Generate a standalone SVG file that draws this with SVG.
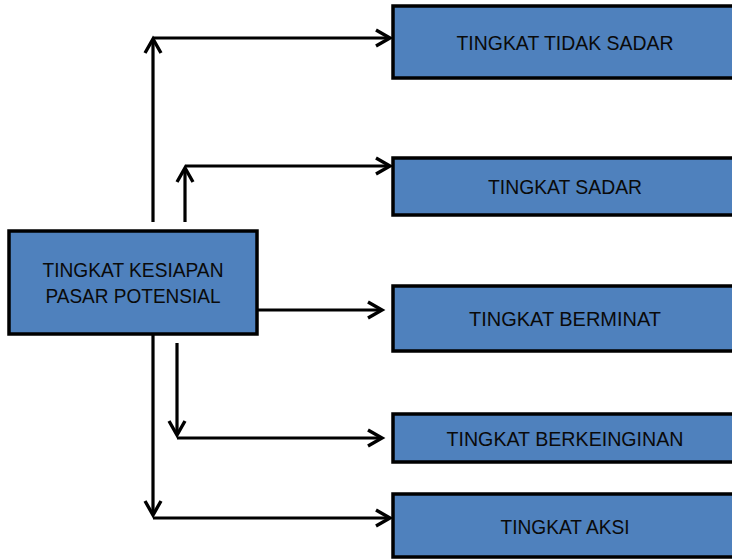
<svg xmlns="http://www.w3.org/2000/svg" width="732" height="559" viewBox="0 0 732 559">
  <style>
    .box { fill: #4F81BD; stroke: #000; stroke-width: 3.5; }
    .lbl { font-family: "Liberation Sans", Arial, sans-serif; font-size: 20.5px; fill: #0a0a0a; text-anchor: middle; }
    .conn { fill: none; stroke: #000; stroke-width: 3.2; marker-end: url(#arrow); }
  </style>
  <defs>
    <marker id="arrow" markerUnits="userSpaceOnUse" viewBox="-18 -12 22 24" markerWidth="22" markerHeight="24" refX="0" refY="0" orient="auto">
      <path d="M-14,-8 L0,0 L-14,8" fill="none" stroke="#000" stroke-width="3.4" stroke-linejoin="miter"/>
    </marker>
  </defs>

  <!-- connectors -->
  <g id="connectors">
    <path class="conn" d="M153,222 V39"/>
    <path class="conn" d="M153,38 H390"/>
    <path class="conn" d="M185,222 V168"/>
    <path class="conn" d="M185,166 H390"/>
    <path class="conn" d="M258,310 H382"/>
    <path class="conn" d="M177,343 V435"/>
    <path class="conn" d="M177,438 H382"/>
    <path class="conn" d="M153,335 V515"/>
    <path class="conn" d="M153,518 H390"/>
  </g>

  <!-- source node -->
  <g id="node-kesiapan">
    <rect class="box" x="9" y="231" width="248" height="103"/>
    <text class="lbl" x="133" y="277" textLength="181" lengthAdjust="spacingAndGlyphs">TINGKAT KESIAPAN</text>
    <text class="lbl" x="133" y="303" textLength="175" lengthAdjust="spacingAndGlyphs">PASAR POTENSIAL</text>
  </g>

  <!-- stage nodes -->
  <g id="node-tidak-sadar">
    <rect class="box" x="393" y="6" width="345" height="72"/>
    <text class="lbl" x="565" y="50" textLength="217" lengthAdjust="spacingAndGlyphs">TINGKAT TIDAK SADAR</text>
  </g>
  <g id="node-sadar">
    <rect class="box" x="393" y="158" width="345" height="57"/>
    <text class="lbl" x="565" y="194" textLength="154" lengthAdjust="spacingAndGlyphs">TINGKAT SADAR</text>
  </g>
  <g id="node-berminat">
    <rect class="box" x="393" y="286" width="345" height="65"/>
    <text class="lbl" x="565" y="326" textLength="192" lengthAdjust="spacingAndGlyphs">TINGKAT BERMINAT</text>
  </g>
  <g id="node-berkeinginan">
    <rect class="box" x="393" y="414" width="345" height="48"/>
    <text class="lbl" x="565" y="446" textLength="237" lengthAdjust="spacingAndGlyphs">TINGKAT BERKEINGINAN</text>
  </g>
  <g id="node-aksi">
    <rect class="box" x="393" y="494" width="345" height="63"/>
    <text class="lbl" x="565" y="534" textLength="129" lengthAdjust="spacingAndGlyphs">TINGKAT AKSI</text>
  </g>
</svg>
